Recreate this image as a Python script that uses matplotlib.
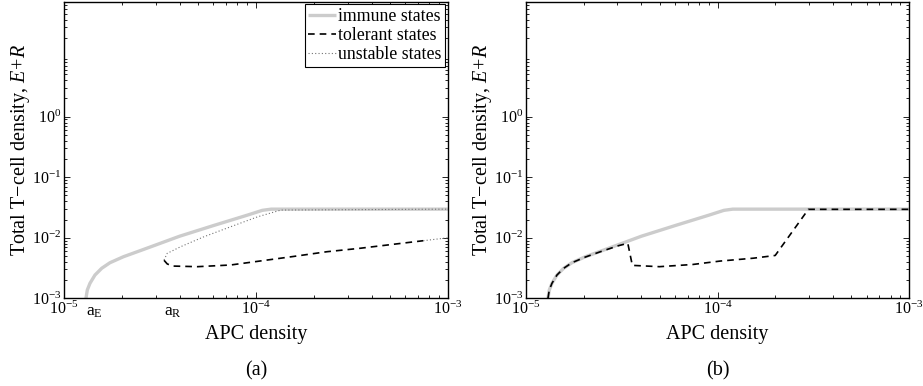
import numpy as np
import matplotlib
matplotlib.use("Agg")
from matplotlib import pyplot as plt
from matplotlib import transforms

plt.rcParams["font.family"] = ["Liberation Serif", "DejaVu Serif"]
plt.rcParams["mathtext.fontset"] = "custom"
plt.rcParams["mathtext.rm"] = "Liberation Serif"
plt.rcParams["mathtext.it"] = "Liberation Serif:italic"

# threshold APC densities
a_E = 1.30e-5
a_R = 3.32e-5

# (a) immune, tolerant and unstable branches
immune_x = [1.302e-5, 1.323e-5, 1.366e-5, 1.45e-5, 1.572e-5, 1.736e-5, 2.04e-5, 2.49e-5,
            3.04e-5, 4.0e-5, 6.04e-5, 9.0e-5, 1.08e-4, 1.2e-4, 1e-3]
immune_y = [1e-3, 1.371e-3, 1.769e-3, 2.42e-3, 3.13e-3, 3.87e-3, 4.86e-3, 6.11e-3,
            7.7e-3, 1.06e-2, 1.6e-2, 2.36e-2, 2.84e-2, 2.97e-2, 2.97e-2]

tolerant_x = [3.32e-5, 3.45e-5, 3.67e-5, 4.95e-5, 7.38e-5, 1.05e-4, 1.56e-4,
              2.34e-4, 3.48e-4, 5.19e-4, 7.44e-4]
tolerant_y = [4.25e-3, 3.7e-3, 3.41e-3, 3.33e-3, 3.55e-3, 4.13e-3, 4.9e-3,
              5.88e-3, 6.7e-3, 7.8e-3, 8.94e-3]

unstable_x = [3.32e-5, 3.45e-5, 4.05e-5, 5.36e-5, 7.38e-5, 1.02e-4, 1.35e-4, 1e-3]
unstable_y = [4.29e-3, 5.53e-3, 7.11e-3, 1.04e-2, 1.52e-2, 2.22e-2, 2.87e-2, 2.97e-2]

unstable2_x = [7.44e-4, 1e-3]
unstable2_y = [8.94e-3, 1.0e-2]

# (b) tolerant branch
tolerant_b_x = [1.302e-5, 1.323e-5, 1.366e-5, 1.45e-5, 1.572e-5, 1.736e-5, 2.04e-5, 2.49e-5,
                3.04e-5, 3.40e-5, 3.59e-5, 4.97e-5, 7.42e-5, 1.03e-4, 1.54e-4, 2.0e-4,
                2.98e-4, 1e-3]
tolerant_b_y = [1e-3, 1.371e-3, 1.769e-3, 2.42e-3, 3.13e-3, 3.87e-3, 4.8e-3, 6.0e-3,
                7.4e-3, 8.1e-3, 3.5e-3, 3.33e-3, 3.62e-3, 4.12e-3, 4.6e-3, 5.1e-3,
                2.95e-2, 2.95e-2]

x_ticks = [1e-5, 1e-4, 1e-3]
y_ticks = [1e-3, 1e-2, 1e-1, 1e0]

fig = plt.figure(figsize=(9.23, 3.86), dpi=100)
ax1 = fig.add_axes([0.0693, 0.2272, 0.4160, 0.7684])
ax2 = fig.add_axes([0.5699, 0.2272, 0.4150, 0.7684])

grey = (0.8, 0.8, 0.8)
dotgrey = (0.45, 0.45, 0.45)

ax1.plot(immune_x, immune_y, color=grey, lw=2.4, label="immune states", solid_capstyle="butt")
ax1.plot(tolerant_x, tolerant_y, color="black", lw=1.2, ls=(0, (4, 3)), label="tolerant states")
ax1.plot(unstable_x, unstable_y, color=dotgrey, lw=0.8, ls=(0, (1, 2)), label="unstable states")
ax1.plot(unstable2_x, unstable2_y, color=dotgrey, lw=0.8, ls=(0, (1, 2)))

ax2.plot(immune_x, immune_y, color=grey, lw=2.4, solid_capstyle="butt")
ax2.plot(tolerant_b_x, tolerant_b_y, color="black", lw=1.2, ls=(0, (4, 3)))

for ax, tag in [(ax1, "(a)"), (ax2, "(b)")]:
    ax.set_xscale("log")
    ax.set_yscale("log")
    ax.set_xlim(1e-5, 1e-3)
    ax.set_ylim(1e-3, 10 ** 1.9)
    ax.set_xticks(x_ticks)
    ax.set_yticks(y_ticks)
    ax.tick_params(which="both", direction="in", top=True, right=True, labelsize=11.5, width=0.6)
    ax.tick_params(which="major", length=4, pad=2)
    ax.tick_params(which="minor", length=2)
    for s in ax.spines.values():
        s.set_linewidth(1.0)
    ax.set_xlabel("APC density", fontsize=14.5, labelpad=5)
    ax.set_ylabel("Total T\u2212cell density, $E\\!+\\!R$", fontsize=14.5, labelpad=0)
    ax.text(0.5, -0.212, tag, transform=ax.transAxes, ha="center", va="top", fontsize=14.5)

# threshold labels under the axis of panel (a)
tr = transforms.blended_transform_factory(ax1.transData, ax1.transAxes)
ax1.text(a_E, -0.018, "a$_\\mathregular{E}$", transform=tr, ha="left", va="top", fontsize=12.5)
ax1.text(a_R, -0.018, "a$_\\mathregular{R}$", transform=tr, ha="left", va="top", fontsize=12.5)

leg = ax1.legend(loc="upper right", fontsize=12.8, handlelength=1.55, handletextpad=0.15,
                 labelspacing=0.12, borderpad=0.2, borderaxespad=0.15, fancybox=False,
                 framealpha=1)
leg.get_frame().set_edgecolor("black")
leg.get_frame().set_linewidth(0.8)

fig.savefig("out.png", dpi=100)
